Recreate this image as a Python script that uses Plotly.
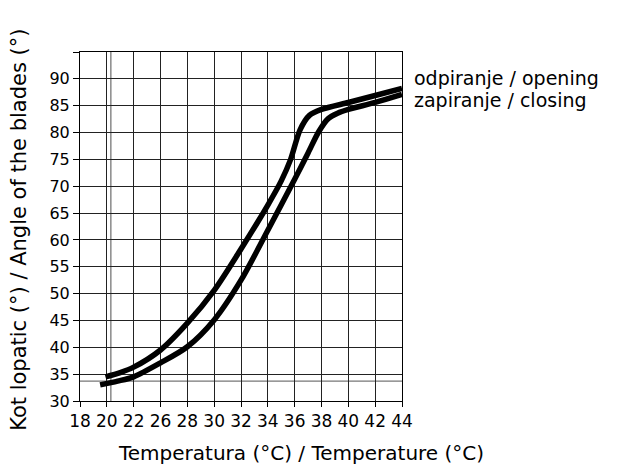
import plotly.graph_objects as go

# x positions are grid positions (0..12) labelled by the tick labels below
x_tick_labels = ["18", "20", "22", "26", "28", "30", "32", "34", "36", "38", "40", "42", "44"]
y_tick_values = [30, 35, 40, 45, 50, 55, 60, 65, 70, 75, 80, 85, 90, 95]

# opening (odpiranje)
open_x = [0.95, 1.5, 2.0, 3.0, 4.0, 5.0, 6.0, 7.0, 7.5, 7.85, 8.2, 8.55, 9.0, 10.0, 11.0, 12.0]
open_y = [34.5, 35.3, 36.3, 39.5, 44.5, 50.6, 58.3, 66.5, 71.0, 75.0, 80.5, 83.2, 84.3, 85.6, 86.9, 88.2]

# closing (zapiranje)
close_x = [0.75, 1.4, 2.0, 3.0, 4.0, 5.0, 6.0, 7.0, 8.0, 8.5, 8.9, 9.25, 9.6, 10.0, 11.0, 12.0]
close_y = [33.0, 33.7, 34.5, 37.1, 40.1, 45.1, 52.5, 61.8, 71.3, 76.2, 80.2, 82.6, 83.6, 84.3, 85.6, 87.1]

# extra reference lines
ref_x = 1.15
ref_y = 33.7

FONT = "DejaVu Sans"

fig = go.Figure()
fig.add_trace(go.Scatter(x=open_x, y=open_y, mode="lines",
                         line=dict(color="black", width=5.5, shape="spline", smoothing=0.8),
                         showlegend=False, hoverinfo="skip"))
fig.add_trace(go.Scatter(x=close_x, y=close_y, mode="lines",
                         line=dict(color="black", width=5.5, shape="spline", smoothing=0.8),
                         showlegend=False, hoverinfo="skip"))

fig.add_shape(type="line", xref="x", yref="y", x0=ref_x, x1=ref_x, y0=30, y1=95,
              line=dict(color="#777", width=1.3), layer="below")
fig.add_shape(type="line", xref="x", yref="y", x0=0, x1=12, y0=ref_y, y1=ref_y,
              line=dict(color="#777", width=1.3), layer="below")

fig.add_annotation(x=12, y=90.2, xref="x", yref="y", text="odpiranje / opening",
                   showarrow=False, xanchor="left", yanchor="middle", xshift=10,
                   font=dict(family=FONT, size=19, color="black"))
fig.add_annotation(x=12, y=86.0, xref="x", yref="y", text="zapiranje / closing",
                   showarrow=False, xanchor="left", yanchor="middle", xshift=10,
                   font=dict(family=FONT, size=19, color="black"))

# axis titles
fig.add_annotation(x=0.685, y=-0.15, xref="paper", yref="paper",
                   text="Temperatura (°C) / Temperature (°C)",
                   showarrow=False, xanchor="center", yanchor="middle",
                   font=dict(family=FONT, size=20, color="black"))
fig.add_annotation(x=-0.19, y=0.49, xref="paper", yref="paper",
                   text="Kot lopatic (°) / Angle of the blades (°)", textangle=-90,
                   showarrow=False, xanchor="center", yanchor="middle",
                   font=dict(family=FONT, size=21, color="black"))

fig.update_xaxes(range=[0, 12], tickvals=list(range(len(x_tick_labels))), ticktext=x_tick_labels,
                 showgrid=True, gridcolor="#222", gridwidth=1,
                 showline=True, linecolor="black", linewidth=1, mirror=True,
                 ticks="outside", ticklen=5, tickcolor="black",
                 zeroline=False, automargin=False,
                 tickfont=dict(family=FONT, size=17, color="black"))
fig.update_yaxes(range=[30, 95], tickvals=y_tick_values,
                 ticktext=[str(v) if v < 95 else "" for v in y_tick_values],
                 showgrid=True, gridcolor="#222", gridwidth=1,
                 showline=True, linecolor="black", linewidth=1, mirror=True,
                 ticks="outside", ticklen=6, tickcolor="black",
                 zeroline=False, automargin=False,
                 tickfont=dict(family=FONT, size=16, color="black"))

# page body adds an 8px offset, so the figure is sized/placed to compensate
fig.update_layout(width=631, height=458, plot_bgcolor="white", paper_bgcolor="white",
                  margin=dict(l=72, r=237.3, t=43.7, b=65.3, autoexpand=False),
                  font=dict(family=FONT, color="black"))

fig.write_html("out.html")
